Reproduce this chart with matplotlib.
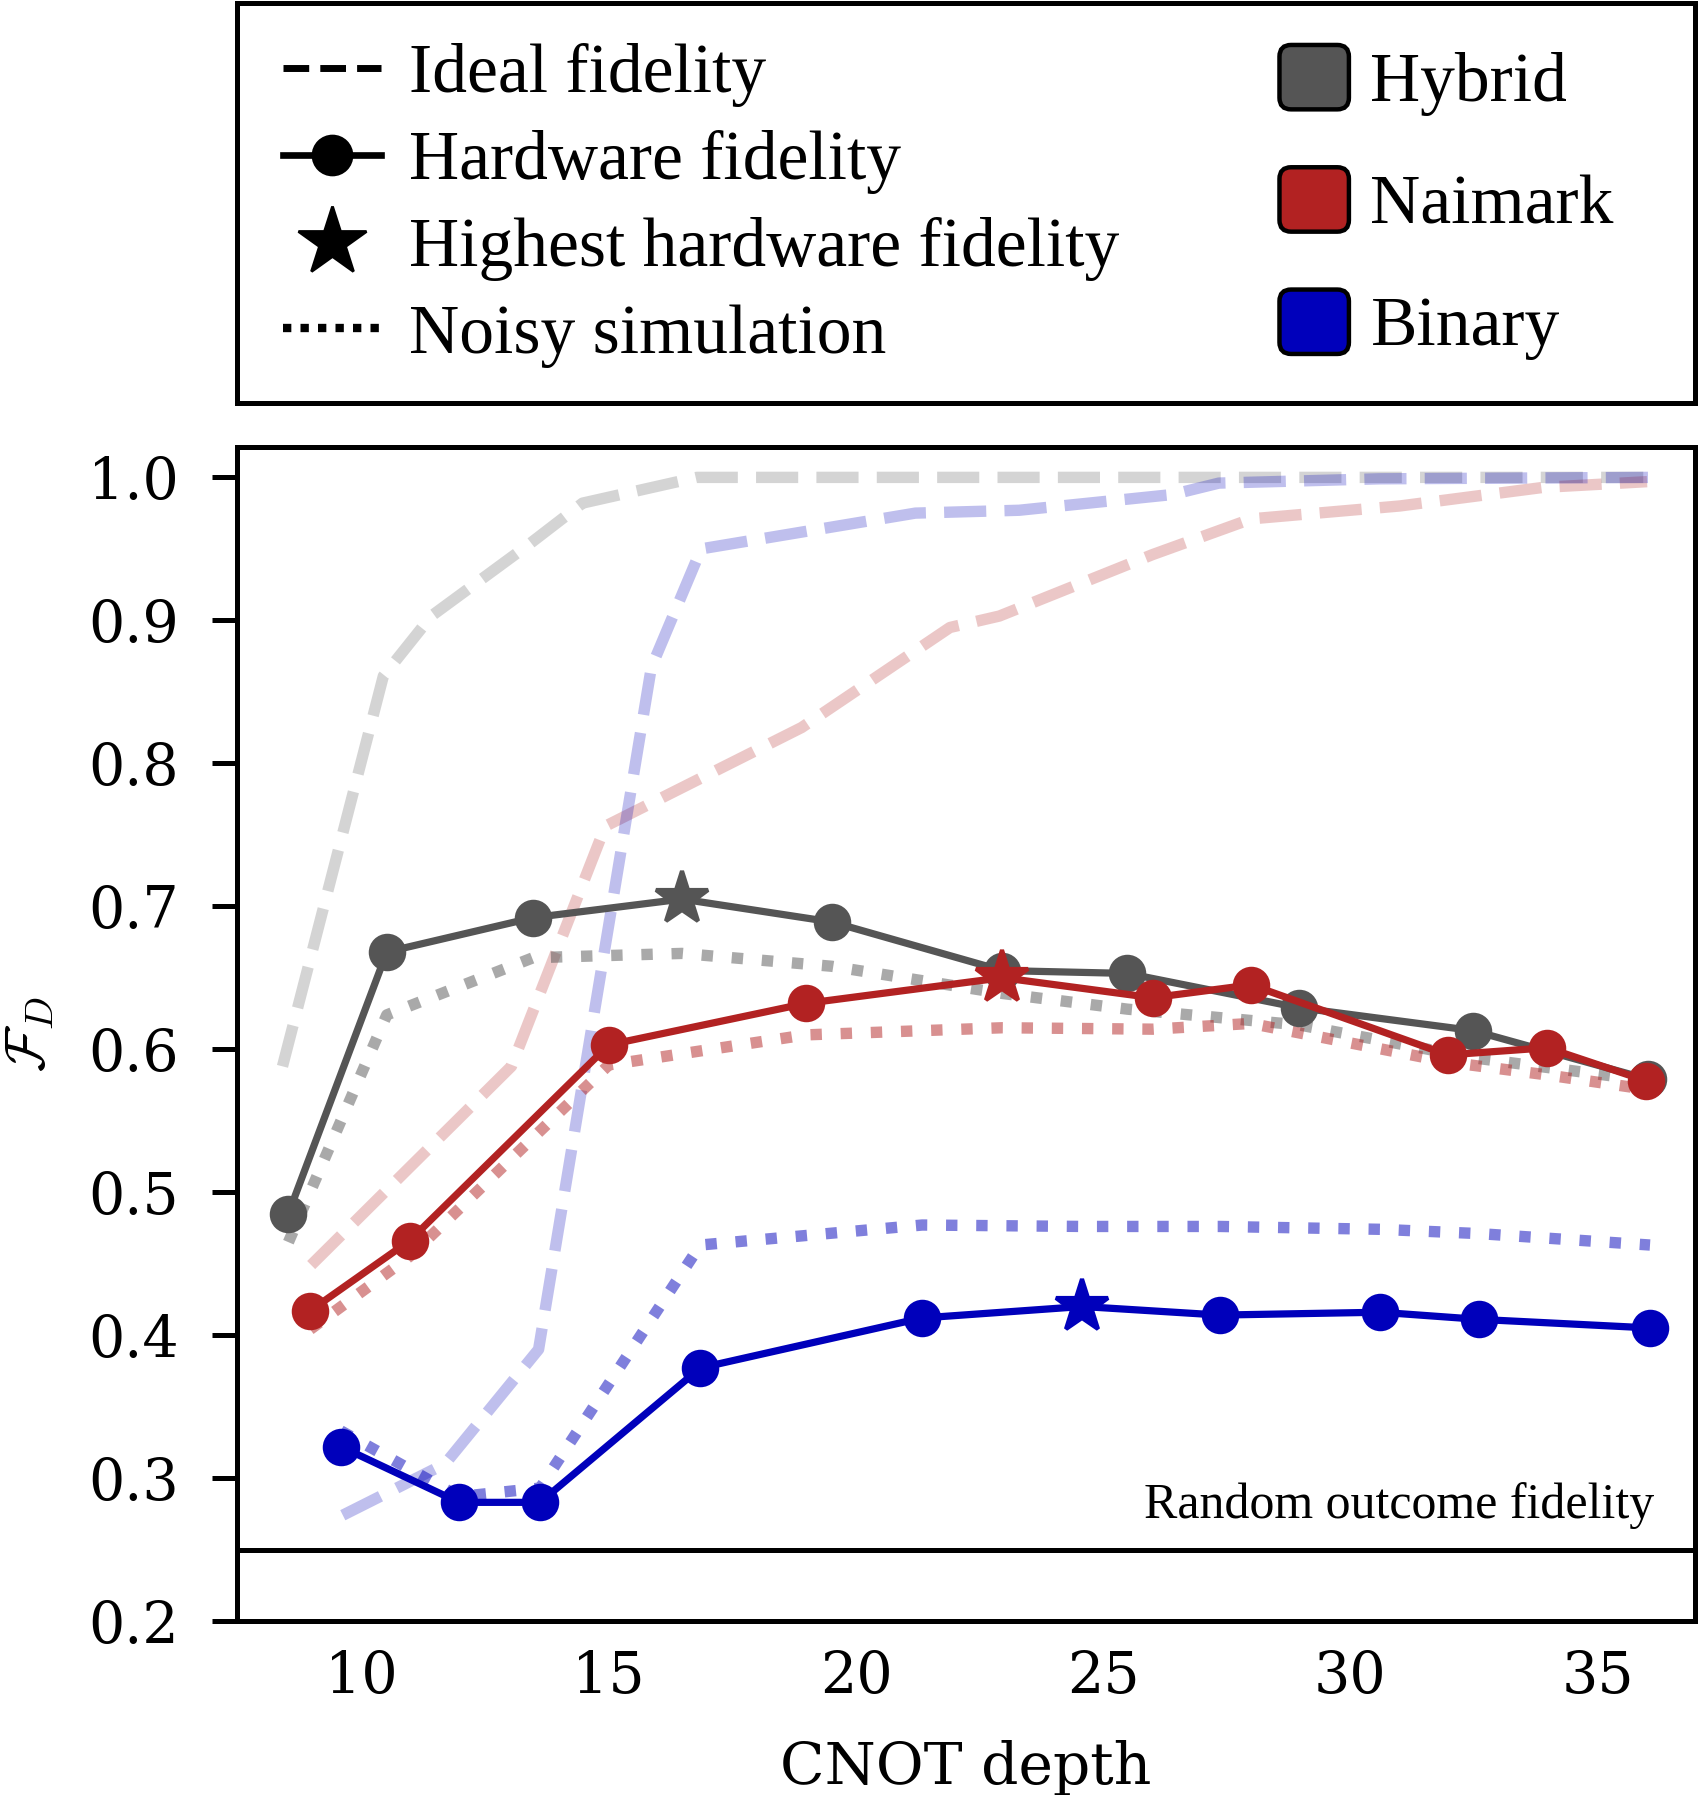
import matplotlib
matplotlib.use("Agg")
import matplotlib.pyplot as plt
from matplotlib.lines import Line2D
from matplotlib.patches import Patch, FancyBboxPatch
from matplotlib.legend_handler import HandlerPatch
import numpy as np

### Setting plt options
plt.rcParams['font.family'] = 'DejaVu Serif'
plt.rcParams['mathtext.fontset'] = 'cm'

### Data
# Hybrid
hyb_hw_x = [8.52, 10.51, 13.47, 16.48, 19.51, 22.96, 25.49, 28.96, 32.48, 36.02]
hyb_hw_y = [0.485, 0.668, 0.692, 0.705, 0.689, 0.655, 0.653, 0.629, 0.613, 0.579]
hyb_sim_y = [0.465, 0.624, 0.664, 0.667, 0.658, 0.639, 0.628, 0.617, 0.594, 0.578]
hyb_id_x = [8.4, 10.44, 11.41, 13.38, 14.47, 16.78, 36.1]
hyb_id_y = [0.588, 0.861, 0.903, 0.953, 0.982, 1.0, 1.0]
# Naimark
nai_hw_x = [8.96, 10.97, 15.0, 18.98, 22.96, 26.0, 27.99, 31.97, 33.98, 35.97]
nai_hw_y = [0.417, 0.466, 0.603, 0.632, 0.650, 0.636, 0.645, 0.596, 0.601, 0.578]
nai_sim_y = [0.404, 0.455, 0.589, 0.610, 0.615, 0.614, 0.618, 0.591, 0.582, 0.572]
nai_id_x = [8.98, 13.03, 14.93, 18.9, 21.9, 22.9, 26.0, 28.0, 31.0, 33.9, 36.0]
nai_id_y = [0.449, 0.588, 0.756, 0.825, 0.895, 0.903, 0.946, 0.971, 0.980, 0.993, 0.997]
# Binary
bin_hw_x = [9.58, 11.97, 13.61, 16.85, 21.34, 24.58, 27.36, 30.6, 32.6, 36.06]
bin_hw_y = [0.322, 0.283, 0.283, 0.377, 0.412, 0.420, 0.414, 0.416, 0.411, 0.405]
bin_sim_y = [0.333, 0.287, 0.293, 0.463, 0.477, 0.476, 0.476, 0.474, 0.471, 0.463]
bin_id_x = [9.62, 11.69, 13.58, 15.86, 16.87, 21.2, 23.3, 26.4, 27.34, 30.6, 36.1]
bin_id_y = [0.274, 0.31, 0.39, 0.867, 0.95, 0.975, 0.977, 0.988, 0.996, 0.999, 1.0]

random_fid = 0.25

names = ["Hybrid", "Naimark", "Binary"]
colors = ["#555555", "#b22222", "#0000bb"]

### Styles
spine_w = 1.8
ms = 12.5
star_ms = 20
leg_font = 'Liberation Serif'

fig = plt.figure(figsize=(8.5, 8.975), dpi=200)
W, H = 1700.0, 1795.0
ax = fig.add_axes([237/W, 1-1621/H, 1458/W, (1621-446.5)/H])
ax_leg = fig.add_axes([237/W, 1-403/H, 1458/W, 399.6/H])

series = [
	(hyb_hw_x, hyb_hw_y, hyb_sim_y, hyb_id_x, hyb_id_y),
	(nai_hw_x, nai_hw_y, nai_sim_y, nai_id_x, nai_id_y),
	(bin_hw_x, bin_hw_y, bin_sim_y, bin_id_x, bin_id_y),
]

for (hx, hy, sy, ix, iy), c in zip(series, colors):
	ax.plot(ix, iy, color=c, ls='--', lw=4.1, alpha=0.25, zorder=1)
	ax.plot(hx, sy, color=c, ls=':', lw=4.1, alpha=0.5, zorder=2)
for (hx, hy, sy, ix, iy), c in zip(series, colors):
	best = int(np.argmax(hy))
	others = [i for i in range(len(hx)) if i != best]
	ax.plot(hx, hy, color=c, lw=2.6, marker='o', ms=ms, markevery=others, zorder=3)
	ax.plot(hx[best], hy[best], color=c, marker='*', ms=star_ms, mew=1.5, ls='none',
		markeredgecolor=c, zorder=4, solid_joinstyle='round')

# random outcome fidelity line
ax.axhline(random_fid, color='k', lw=spine_w, zorder=5)
ax.text(36.15, 0.2645, "Random outcome fidelity", ha='right', va='bottom',
	fontsize=18, family=leg_font)

ax.set_xlim(7.48, 36.97)
ax.set_ylim(0.2, 1.0216)
ax.set_xticks([10, 15, 20, 25, 30, 35])
ax.set_yticks([0.2, 0.3, 0.4, 0.5, 0.6, 0.7, 0.8, 0.9, 1.0])
ax.tick_params(axis='y', length=9, width=spine_w, pad=12, labelsize=20.5)
ax.tick_params(axis='x', length=0, pad=10, labelsize=20.5)
for s in ax.spines.values():
	s.set_linewidth(spine_w)
ax.set_xlabel("CNOT depth", fontsize=21)
ax.set_ylabel(r"$\mathcal{F}_D$", fontsize=20)
ax.xaxis.set_label_coords(0.5, -0.101)
ax.yaxis.set_label_coords(-0.124, 0.5)

### Legend box
ax_leg.set_xticks([])
ax_leg.set_yticks([])
for s in ax_leg.spines.values():
	s.set_linewidth(spine_w)

style_handles = [
	Line2D([], [], color='k', ls='--', lw=2.5),
	Line2D([], [], color='k', ls='-', lw=2.4, marker='o', ms=14),
	Line2D([], [], color='k', ls='none', marker='*', ms=26, solid_joinstyle='round'),
	Line2D([], [], color='k', ls=(0, (1, 1.1)), lw=3.0),
]
style_labels = ["Ideal fidelity", "Hardware fidelity", "Highest hardware fidelity", "Noisy simulation"]
leg1 = ax_leg.legend(style_handles, style_labels, loc='upper left', bbox_to_anchor=(0.0316, 0.90),
	frameon=False, borderpad=0, borderaxespad=0, handlelength=1.41, handletextpad=0.41,
	labelspacing=0.33, prop={'family': leg_font, 'size': 25})
ax_leg.add_artist(leg1)

def rounded_box(legend, orig_handle, xdescent, ydescent, width, height, fontsize):
	return FancyBboxPatch((-xdescent, -ydescent), width, height,
		boxstyle="round,pad=0,rounding_size=%f" % (0.18*height))

method_handles = [Patch(facecolor=c, edgecolor='k', lw=1.6) for c in colors]
ax_leg.legend(method_handles, names, loc='upper left', bbox_to_anchor=(0.715, 0.896),
	frameon=False, borderpad=0, borderaxespad=0, handlelength=1.0, handleheight=1.05,
	handletextpad=0.31, labelspacing=0.74, prop={'family': leg_font, 'size': 25},
	handler_map={Patch: HandlerPatch(patch_func=rounded_box)})

fig.savefig("out.png", dpi=200)
